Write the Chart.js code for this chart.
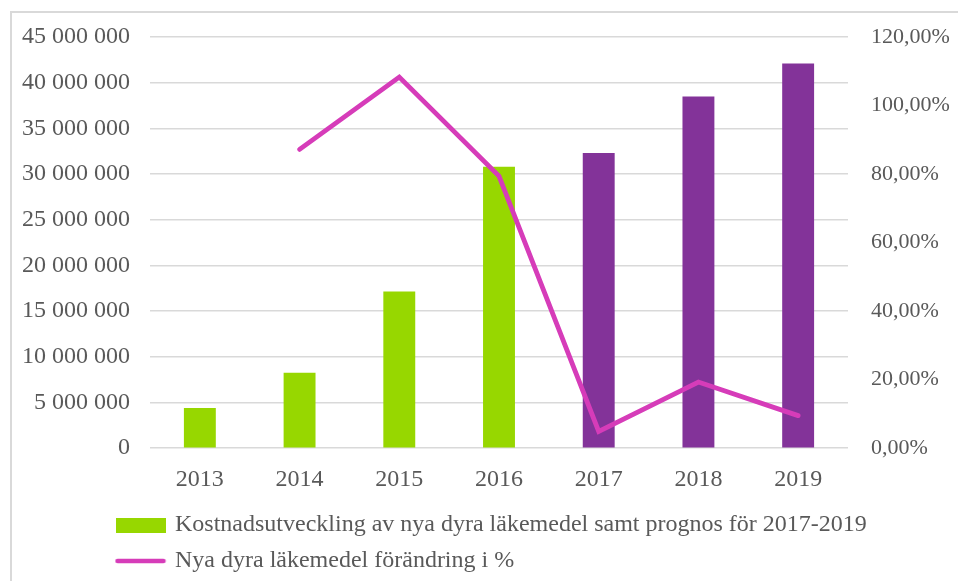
<!DOCTYPE html>
<html>
<head>
<meta charset="utf-8">
<script src="https://cdn.jsdelivr.net/npm/chart.js@4.4.0/dist/chart.umd.min.js"></script>
<style>
  body { margin: 0; background: #fff; }
  #wrap { position: relative; width: 958px; height: 581px; overflow: hidden; }
  #frame { position: absolute; left: 10px; top: 11px; width: 1000px; height: 1000px;
           border-top: 2px solid #d9d9d9; border-left: 2px solid #d9d9d9; }
  #chart { position: absolute; left: 0; top: 0; }
</style>
</head>
<body>
<div id="wrap">
  <div id="frame"></div>
  <canvas id="chart" width="958" height="581"></canvas>
</div>
<script>
var years = ["2013", "2014", "2015", "2016", "2017", "2018", "2019"];
var kostnad = [4400000, 8250000, 17150000, 30800000, 32300000, 38500000, 42100000];
var forandring = [null, 0.872, 1.083, 0.794, 0.049, 0.193, 0.095];
var barColors = ["#97d700", "#97d700", "#97d700", "#97d700", "#833399", "#833399", "#833399"];
var leftTicks = ["0", "5 000 000", "10 000 000", "15 000 000", "20 000 000", "25 000 000",
  "30 000 000", "35 000 000", "40 000 000", "45 000 000"];
var rightTicks = ["0,00%", "20,00%", "40,00%", "60,00%", "80,00%", "100,00%", "120,00%"];

var labelBar = "Kostnadsutveckling av nya dyra läkemedel samt prognos för 2017-2019";
var labelLine = "Nya dyra läkemedel förändring i %";

var grey = "#595959";
var serif = "'Liberation Serif', 'Times New Roman', serif";

// little pictures for the legend keys
function swatch(w, h, draw) {
  var c = document.createElement("canvas");
  c.width = w;
  c.height = h;
  draw(c.getContext("2d"));
  return c;
}
var greenBox = swatch(50, 15, function (g) {
  g.fillStyle = "#97d700";
  g.fillRect(0, 0, 50, 15);
});
var pinkLine = swatch(52, 6, function (g) {
  g.strokeStyle = "#d63cb9";
  g.lineWidth = 4.5;
  g.lineCap = "round";
  g.beginPath();
  g.moveTo(3, 3);
  g.lineTo(49, 3);
  g.stroke();
});

// legend sits left-ish under the plot, like the original
var legendPlace = {
  id: "legendPlace",
  afterLayout: function (chart) {
    chart.legend.left = 106;
    chart.legend.top = 501;
  }
};

var ctx = document.getElementById("chart");
var myChart = new Chart(ctx, {
  data: {
    labels: years,
    datasets: [
      {
        type: "line",
        label: labelLine,
        data: forandring,
        yAxisID: "y1",
        borderColor: "#d63cb9",
        borderWidth: 4.8,
        borderCapStyle: "round",
        pointRadius: 0,
        tension: 0,
        order: 0
      },
      {
        type: "bar",
        label: labelBar,
        data: kostnad,
        yAxisID: "y",
        backgroundColor: barColors,
        categoryPercentage: 1,
        barPercentage: 0.32,
        order: 1
      }
    ]
  },
  options: {
    responsive: false,
    animation: false,
    layout: { padding: { left: 22, right: 4, top: 37, bottom: -4 } },
    scales: {
      x: {
        grid: { display: false },
        border: { display: false },
        ticks: { color: grey, font: { family: serif, size: 24 }, padding: 9, maxRotation: 0 }
      },
      y: {
        position: "left",
        min: 0,
        max: 45000000,
        grid: { color: "#d9d9d9", lineWidth: 1.5, drawTicks: false },
        border: { display: false },
        ticks: {
          stepSize: 5000000,
          color: grey,
          font: { family: serif, size: 24 },
          padding: 20,
          callback: function (v, i) { return leftTicks[i]; }
        },
        afterFit: function (s) { s.width = 128; }
      },
      y1: {
        position: "right",
        min: 0,
        max: 1.2,
        grid: { display: false, drawTicks: false },
        border: { display: false },
        ticks: {
          stepSize: 0.2,
          color: grey,
          font: { family: serif, size: 22 },
          padding: 23,
          callback: function (v, i) { return rightTicks[i]; }
        },
        afterFit: function (s) { s.width = 106; }
      }
    },
    plugins: {
      tooltip: { enabled: false },
      title: { display: false },
      legend: {
        display: true,
        position: "bottom",
        align: "start",
        labels: {
          color: grey,
          font: { family: serif, size: 24 },
          usePointStyle: true,
          pointStyleWidth: 45,
          boxHeight: 15,
          padding: 12,
          generateLabels: function () {
            return [
              { text: labelBar, pointStyle: greenBox, fontColor: grey, datasetIndex: 1 },
              { text: labelLine, pointStyle: pinkLine, fontColor: grey, datasetIndex: 0 }
            ];
          }
        }
      }
    }
  },
  plugins: [legendPlace]
});
</script>
</body>
</html>
